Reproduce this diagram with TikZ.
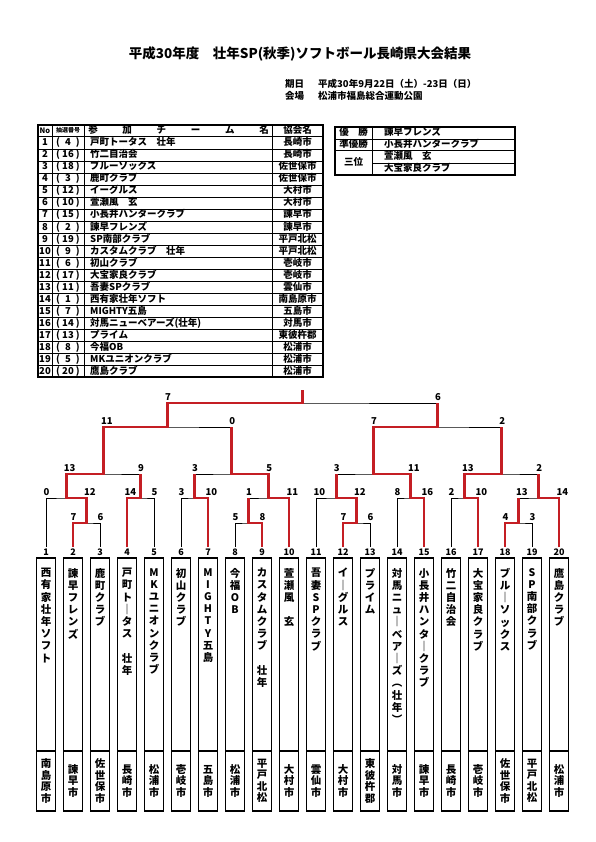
\documentclass[tikz,border=0pt]{standalone}
\usepackage{fontspec}
\setmainfont{Noto Sans CJK JP}
\definecolor{winred}{RGB}{196,30,36}
\def\vtstop{\vtstop}
\def\vtloop#1{\ifx\vtstop#1\else\hbox to 14pt{\hss#1\hss}\expandafter\vtloop\fi}
\newcommand\vstack[3]{\vbox{\fontsize{#1}{#2}\selectfont\bfseries\expandafter\vtloop#3\vtstop}}
\begin{document}
\begin{tikzpicture}[x=1pt,y=-1pt,
  blk/.style={line width=0.7pt,black},
  redp/.style={line width=2.6pt,winred},
  score/.style={font=\fontsize{9.5}{9.5}\selectfont\bfseries,inner sep=0pt,anchor=south west,text depth=0pt},
  numlbl/.style={font=\fontsize{9}{9}\selectfont\bfseries,inner sep=0pt},
  teambox/.style={draw,line width=1.6pt,minimum width=19pt,inner sep=0pt},
  cell/.style={font=\fontsize{9.5}{9.5}\selectfont\bfseries,inner sep=0pt,text height=7.5pt,text depth=1.5pt},
  small/.style={font=\fontsize{6}{6}\selectfont\bfseries,inner sep=0pt,text height=5pt,text depth=1pt},
  hdr/.style={font=\fontsize{9.5}{10}\selectfont\bfseries,inner sep=0pt,anchor=west}]
\fill[white] (0,0) rectangle (595,842);
\useasboundingbox (0,0) rectangle (595,842);

% ---------- title ----------
\node[font=\fontsize{13.5}{14}\selectfont\bfseries,inner sep=0pt] (title) at (300,54) {平成30年度　壮年SP(秋季)ソフトボール長崎県大会結果};
\node[hdr] (kl1) at (285,84) {期日};
\node[hdr] (kv1) at (318,84) {平成30年9月22日（土）-23日（日）};
\node[hdr] (kl2) at (285,96) {会場};
\node[hdr] (kv2) at (318,96) {松浦市福島総合運動公園};

% ---------- left table ----------
\draw[line width=0.6pt] (52,125) -- (52,377) (84,125) -- (84,377) (272,125) -- (272,377);
\foreach \k in {1,...,19} \draw[line width=0.6pt] (38,137+12*\k) -- (323,137+12*\k);
\draw[line width=1pt] (38,137) -- (323,137);
\draw[line width=1.3pt] (38,125) rectangle (323,377);
\node[cell,font=\fontsize{7.5}{8}\selectfont\bfseries] (hno) at (45,131) {No};
\node[small] (hlot) at (68,131) {抽選番号};
\foreach \c [count=\j from 0] in {参,加,チ,ー,ム,名}
  \node[cell] (hc\j) at (93+34.2*\j,131) {\c};
\node[cell] (has) at (297.5,131) {協会名};
\foreach \r/\lot/\tm/\as [count=\k from 0] in {
 1/4/戸町トータス　壮年/長崎市,
 2/16/竹二自治会/長崎市,
 3/18/ブルーソックス/佐世保市,
 4/3/鹿町クラブ/佐世保市,
 5/12/イーグルス/大村市,
 6/10/萱瀬風　玄/大村市,
 7/15/小長井ハンタークラブ/諫早市,
 8/2/諫早フレンズ/諫早市,
 9/19/SP南部クラブ/平戸北松,
 10/9/カスタムクラブ　壮年/平戸北松,
 11/6/初山クラブ/壱岐市,
 12/17/大宝家良クラブ/壱岐市,
 13/11/吾妻SPクラブ/雲仙市,
 14/1/西有家壮年ソフト/南島原市,
 15/7/MIGHTY五島/五島市,
 16/14/対馬ニューベアーズ(壮年)/対馬市,
 17/13/プライム/東彼杵郡,
 18/8/今福OB/松浦市,
 19/5/MKユニオンクラブ/松浦市,
 20/20/鷹島クラブ/松浦市}
{
  \node[cell] (no\r) at (45,143+12*\k) {\r};
  \node[cell] (lot\r) at (68,143+12*\k) {(\makebox[16pt]{\lot})};
  \node[cell,anchor=west] (tm\r) at (90,143+12*\k) {\tm};
  \node[cell] (as\r) at (297.5,143+12*\k) {\as};
}

% ---------- right table ----------
\draw[line width=0.6pt] (372,127) -- (372,175) (335,139) -- (515,139) (372,163) -- (515,163);
\draw[line width=1pt] (335,151) -- (515,151);
\draw[line width=1.3pt] (335,127) rectangle (515,175);
\node[cell] (w1l) at (353.5,133) {優　勝};
\node[cell] (w2l) at (353.5,145) {準優勝};
\node[cell] (w3l) at (353.5,163) {三位};
\node[cell,anchor=west] (w1) at (384,133) {諫早フレンズ};
\node[cell,anchor=west] (w2) at (384,145) {小長井ハンタークラブ};
\node[cell,anchor=west] (w3) at (384,157) {萱瀬風　玄};
\node[cell,anchor=west] (w4) at (384,169) {大宝家良クラブ};

% ---------- team boxes ----------
\foreach \i/\nm/\as in {
 1/西有家壮年ソフト/南島原市,
 2/諫早フレンズ/諫早市,
 3/鹿町クラブ/佐世保市,
 4/戸町ト｜タス　壮年/長崎市,
 5/MKユニオンクラブ/松浦市,
 6/初山クラブ/壱岐市,
 7/MIGHTY五島/五島市,
 8/今福OB/松浦市,
 9/カスタムクラブ　壮年/平戸北松,
 10/萱瀬風　玄/大村市,
 11/吾妻SPクラブ/雲仙市,
 12/イ｜グルス/大村市,
 13/プライム/東彼杵郡,
 14/対馬ニュ｜ベア｜ズ︵壮年︶/対馬市,
 15/小長井ハンタ｜クラブ/諫早市,
 16/竹二自治会/長崎市,
 17/大宝家良クラブ/壱岐市,
 18/ブル｜ソックス/佐世保市,
 19/SP南部クラブ/平戸北松,
 20/鷹島クラブ/松浦市}
{
  \pgfmathsetmacro\xx{46+(\i-1)*27}
  \node[numlbl] (n\i) at (\xx,552) {\i};
  \coordinate (t\i) at (\xx,547);
  \node[teambox,minimum height=193pt] (b\i) at (\xx,654.5) {};
  \node[teambox,minimum height=60pt] (a\i) at (\xx,781) {};
  \node[anchor=north,inner sep=0pt] (nm\i) at (\xx,568) {\vstack{10.5pt}{12.2pt}{\nm}};
  \node[inner sep=0pt] (av\i) at (\xx,781) {\vstack{10.5pt}{11.5pt}{\as}};
}

% ---------- bracket ----------
\coordinate (mA) at (86.5,523);
\coordinate (mB) at (66.25,498);
\coordinate (mC) at (140.5,498);
\coordinate (mD) at (103.375,474);
\coordinate (mE) at (194.5,498);
\coordinate (mF) at (248.5,523);
\coordinate (mG) at (268.75,498);
\coordinate (mH) at (231.625,474);
\coordinate (mI) at (167.5,427);
\coordinate (mJ) at (356.5,523);
\coordinate (mK) at (336.25,498);
\coordinate (mL) at (410.5,498);
\coordinate (mM) at (373.375,474);
\coordinate (mN) at (464.5,498);
\coordinate (mO) at (518.5,523);
\coordinate (mP) at (538.75,498);
\coordinate (mQ) at (501.625,474);
\coordinate (mR) at (437.5,427);
\coordinate (mZ) at (302.5,403);
\coordinate (top) at (302.5,390);

\foreach \x/\a/\b in {mA/t2/t3, mB/t1/mA, mC/t4/t5, mD/mB/mC, mE/t6/t7, mF/t8/t9,
  mG/mF/t10, mH/mE/mG, mI/mD/mH, mJ/t12/t13, mK/t11/mJ, mL/t14/t15, mM/mK/mL,
  mN/t16/t17, mO/t18/t19, mP/mO/t20, mQ/mN/mP, mR/mM/mQ, mZ/mI/mR}
  \draw[blk] (\a) |- (\x) -| (\b);

\draw[redp] (t2) |- (mA) |- (mB) |- (mD) |- (mI) |- (mZ) -- (top);
\draw[redp] (t4) |- (mC) -- (mC |- mD);
\draw[redp] (t7) |- (mE) -- (mE |- mH);
\draw[redp] (t9) |- (mF) -- (mF |- mG);
\draw[redp] (t10) |- (mG) |- (mH) -- (mH |- mI);
\draw[redp] (t12) |- (mJ) |- (mK) -- (mK |- mM);
\draw[redp] (t15) |- (mL) |- (mM) |- (mR) -- (mR |- mZ);
\draw[redp] (t17) |- (mN) |- (mQ) -- (mQ |- mR);
\draw[redp] (t18) |- (mO) -- (mO |- mP);
\draw[redp] (t20) |- (mP) -- (mP |- mQ);

\foreach \sx/\sy/\sv [count=\q] in {
 73/523/7, 100/523/6, 46/498/0, 86.5/498/12, 127/498/14, 154/498/5,
 66.25/474/13, 140.5/474/9, 181/498/3, 208/498/10, 235/523/5, 262/523/8,
 248.5/498/1, 289/498/11, 194.5/474/3, 268.75/474/5, 103.375/427/11, 231.625/427/0,
 343/523/7, 370/523/6, 316/498/10, 356.5/498/12, 397/498/8, 424/498/16,
 336.25/474/3, 410.5/474/11, 451/498/2, 478/498/10, 505/523/4, 532/523/3,
 518.5/498/13, 559/498/14, 464.5/474/13, 538.75/474/2, 373.375/427/7, 501.625/427/2,
 167.5/403/7, 437.5/403/6}
  \node[score] (s\q) at (\sx-2.5,\sy-2) {\sv};
\end{tikzpicture}
\end{document}
